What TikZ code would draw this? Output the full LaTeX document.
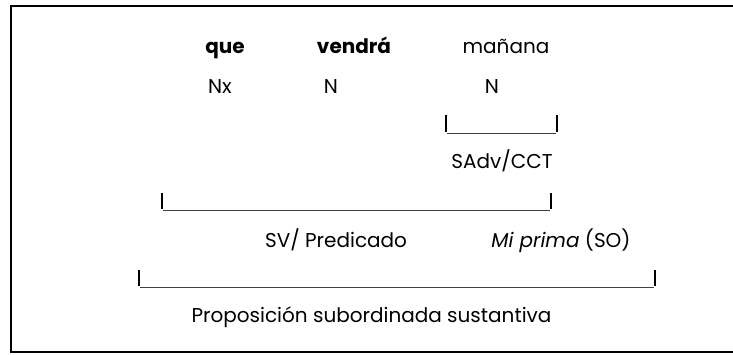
\documentclass[tikz,border=0pt]{standalone}
\usepackage{fontspec}
\setmainfont{Poppins}
\begin{document}
\begin{tikzpicture}[x=1pt,y=-1pt,
    word/.style={anchor=base,inner sep=0pt,font=\fontsize{20}{23}\selectfont},
    tick/.style={line width=1.4pt},
    bar/.style={line width=0.9pt,black!75}]
  \useasboundingbox (0,0) rectangle (733,354);

  % Frame (cut at the right)
  \draw[line width=2pt] (740,6) -| (11,352) -- (740,352);

  % Words
  \node[word] (que) at (225,53) {\textbf{que}};
  \node[word] (vendra) at (354,53) {\textbf{vendrá}};
  \node[word] (manana) at (506,53) {mañana};

  % Categories
  \node[word] (nx) at (220,93) {Nx};
  \node[word] (nv) at (331,93) {N};
  \node[word] (nm) at (492,93) {N};

  % Bracket (SAdv)
  \draw[tick] (446,115) -- ++(0,17);
  \draw[tick] (557,115) -- ++(0,17);
  \draw[bar] (447,133) -- (556,133);
  \node[word] (sadv) at (502,168) {SAdv/CCT};

  % Bracket (SV)
  \draw[tick] (162,193) -- ++(0,16);
  \draw[tick] (551,193) -- ++(0,16);
  \draw[bar] (163,210) -- (550,210);
  \node[word] (sv) at (336,247) {SV/ Predicado};
  \node[word] (so) at (561,247) {\textit{Mi prima} (SO)};

  % Bracket (proposicion)
  \draw[tick] (139,270) -- ++(0,16);
  \draw[tick] (655,270) -- ++(0,16);
  \draw[bar] (140,287) -- (654,287);
  \node[word] (prop) at (371.5,322) {Proposición subordinada sustantiva};
\end{tikzpicture}
\end{document}
